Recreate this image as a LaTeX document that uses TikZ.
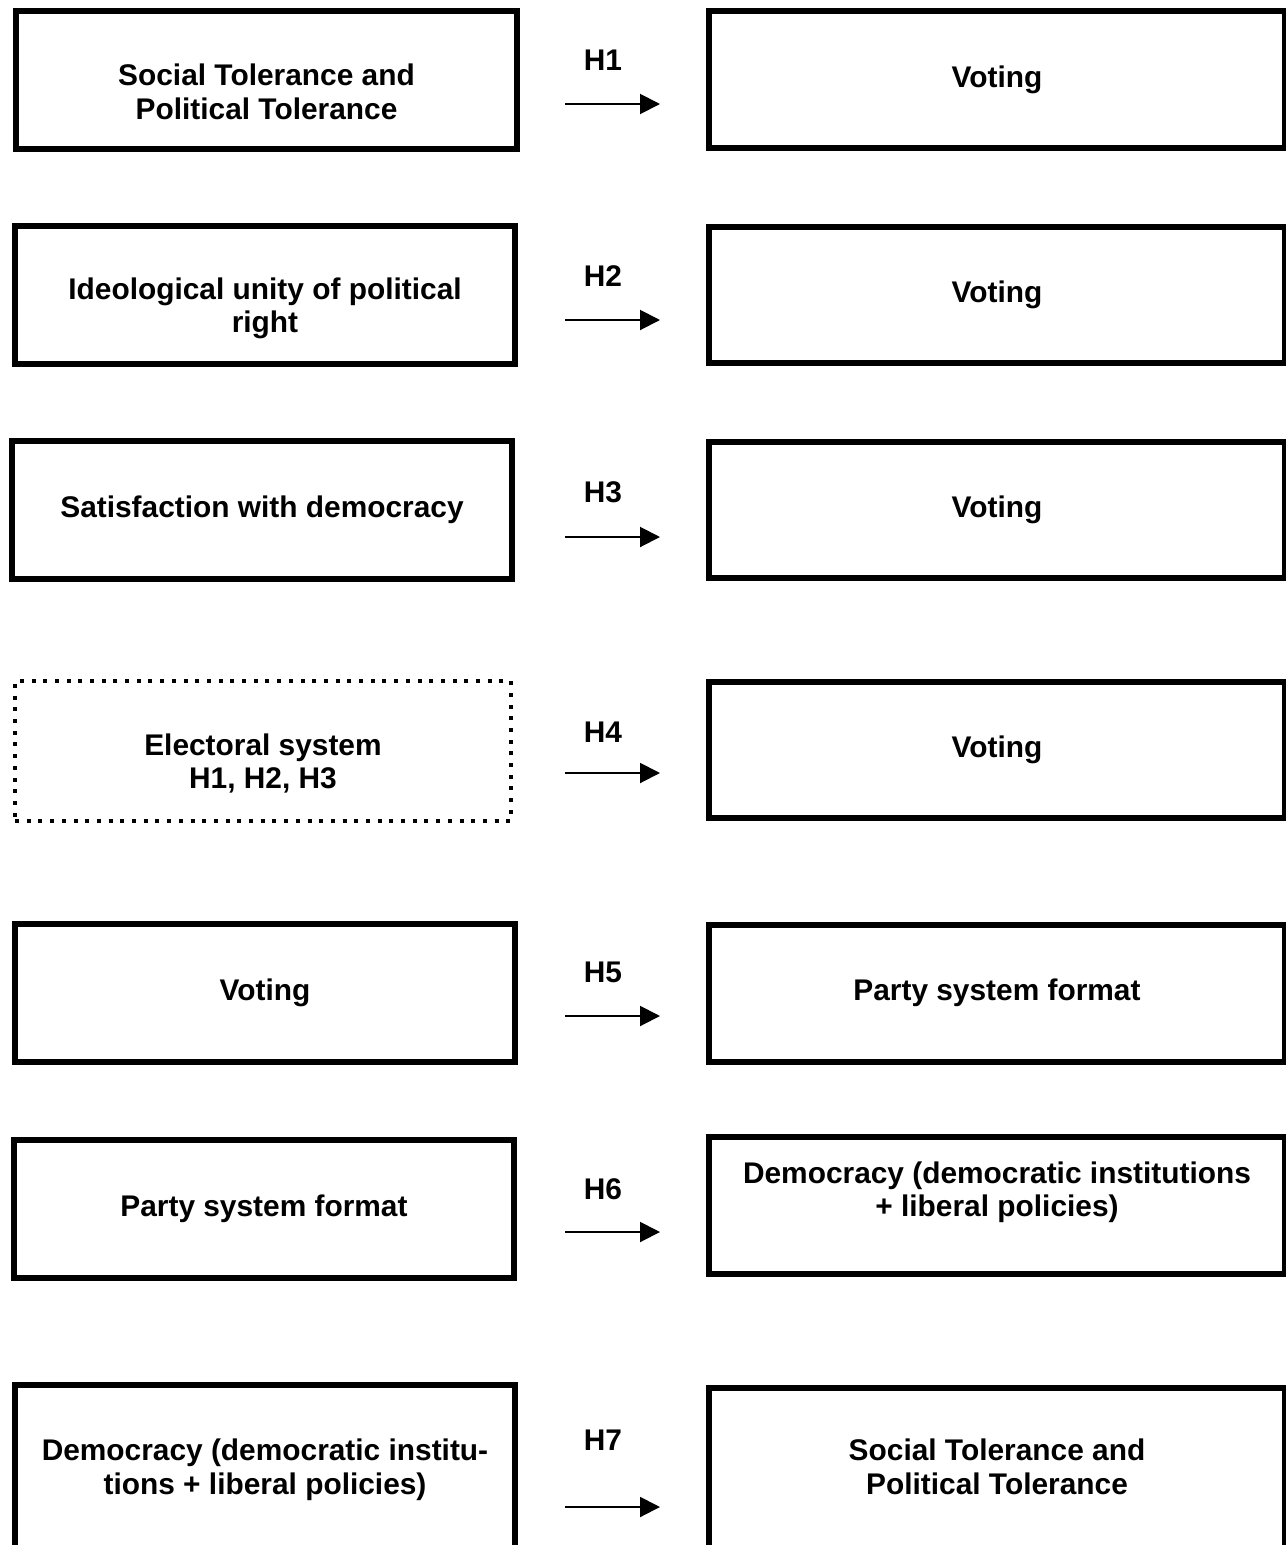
\documentclass[tikz,border=0pt]{standalone}
\usepackage{fontspec}
\setmainfont{Liberation Sans}
\usetikzlibrary{arrows.meta}

\begin{document}
\begin{tikzpicture}[x=0.02cm,y=-0.02cm,
            box/.style={draw,rectangle,line width=0.12cm,align=center,inner sep=0pt,
              font=\fontsize{17}{19}\selectfont\bfseries},
            cause/.style={box,minimum width=10.02cm,minimum height=2.76cm},
            effect/.style={box,minimum width=11.52cm,minimum height=2.74cm},
            moderator/.style={cause,line width=0.08cm,dash pattern=on 0.08cm off 0.154cm,
              minimum width=9.92cm,minimum height=2.8cm},
            hyp/.style={font=\fontsize{17}{19}\selectfont\bfseries},
            link/.style={draw,-{Triangle[length=0.4cm,width=0.4cm]},line width=0.04cm}
          ]
          \useasboundingbox (0,0) rectangle (1285,1545);

          %H1
          \node[cause,text height=44.4pt,text depth=0pt] (c1) at (266.5,80) {Social Tolerance and\\Political Tolerance};
          \node[effect] (e1) at (997,79.5) {Voting};
          \node[hyp] (h1) at (603,60) {H1};
          \coordinate (s1) at (565,104);
          \coordinate (t1) at (660,104);

          %H2
          \node[cause,text height=43.2pt,text depth=0pt] (c2) at (265,295) {Ideological unity of political\\right};
          \node[effect] (e2) at (997,295) {Voting};
          \node[hyp] (h2) at (603,276) {H2};
          \coordinate (s2) at (565,320);
          \coordinate (t2) at (660,320);

          %H3
          \node[cause] (c3) at (262,510) {Satisfaction with democracy};
          \node[effect] (e3) at (997,510) {Voting};
          \node[hyp] (h3) at (603,492) {H3};
          \coordinate (s3) at (565,537);
          \coordinate (t3) at (660,537);

          %H4
          \node[moderator,text height=43.2pt,text depth=0pt] (c4) at (263,751) {Electoral system\\H1, H2, H3};
          \node[effect] (e4) at (997,750) {Voting};
          \node[hyp] (h4) at (603,732) {H4};
          \coordinate (s4) at (565,773);
          \coordinate (t4) at (660,773);

          %H5
          \node[cause] (c5) at (265,993) {Voting};
          \node[effect] (e5) at (997,993) {Party system format};
          \node[hyp] (h5) at (603,972) {H5};
          \coordinate (s5) at (565,1016);
          \coordinate (t5) at (660,1016);

          %H6
          \node[cause] (c6) at (264,1208.5) {Party system format};
          \node[effect,text height=31.4pt,text depth=17.8pt] (e6) at (997,1205) {Democracy (democratic institutions\\+ liberal policies)};
          \node[hyp] (h6) at (603,1189) {H6};
          \coordinate (s6) at (565,1232);
          \coordinate (t6) at (660,1232);

          %H7
          \node[cause,minimum height=3.44cm,text height=31.4pt,text depth=5.2pt] (c7) at (265,1471) {Democracy (democratic institu-\\tions + liberal policies)};
          \node[effect,minimum height=3.44cm,text height=31.4pt,text depth=8.6pt] (e7) at (997,1474) {Social Tolerance and\\Political Tolerance};
          \node[hyp] (h7) at (603,1440) {H7};
          \coordinate (s7) at (565,1507);
          \coordinate (t7) at (660,1507);

          %arrows
          \path
          (s1) edge[link] (t1)
          (s2) edge[link] (t2)
          (s3) edge[link] (t3)
          (s4) edge[link] (t4)
          (s5) edge[link] (t5)
          (s6) edge[link] (t6)
          (s7) edge[link] (t7)
          ;

\end{tikzpicture}
\end{document}
